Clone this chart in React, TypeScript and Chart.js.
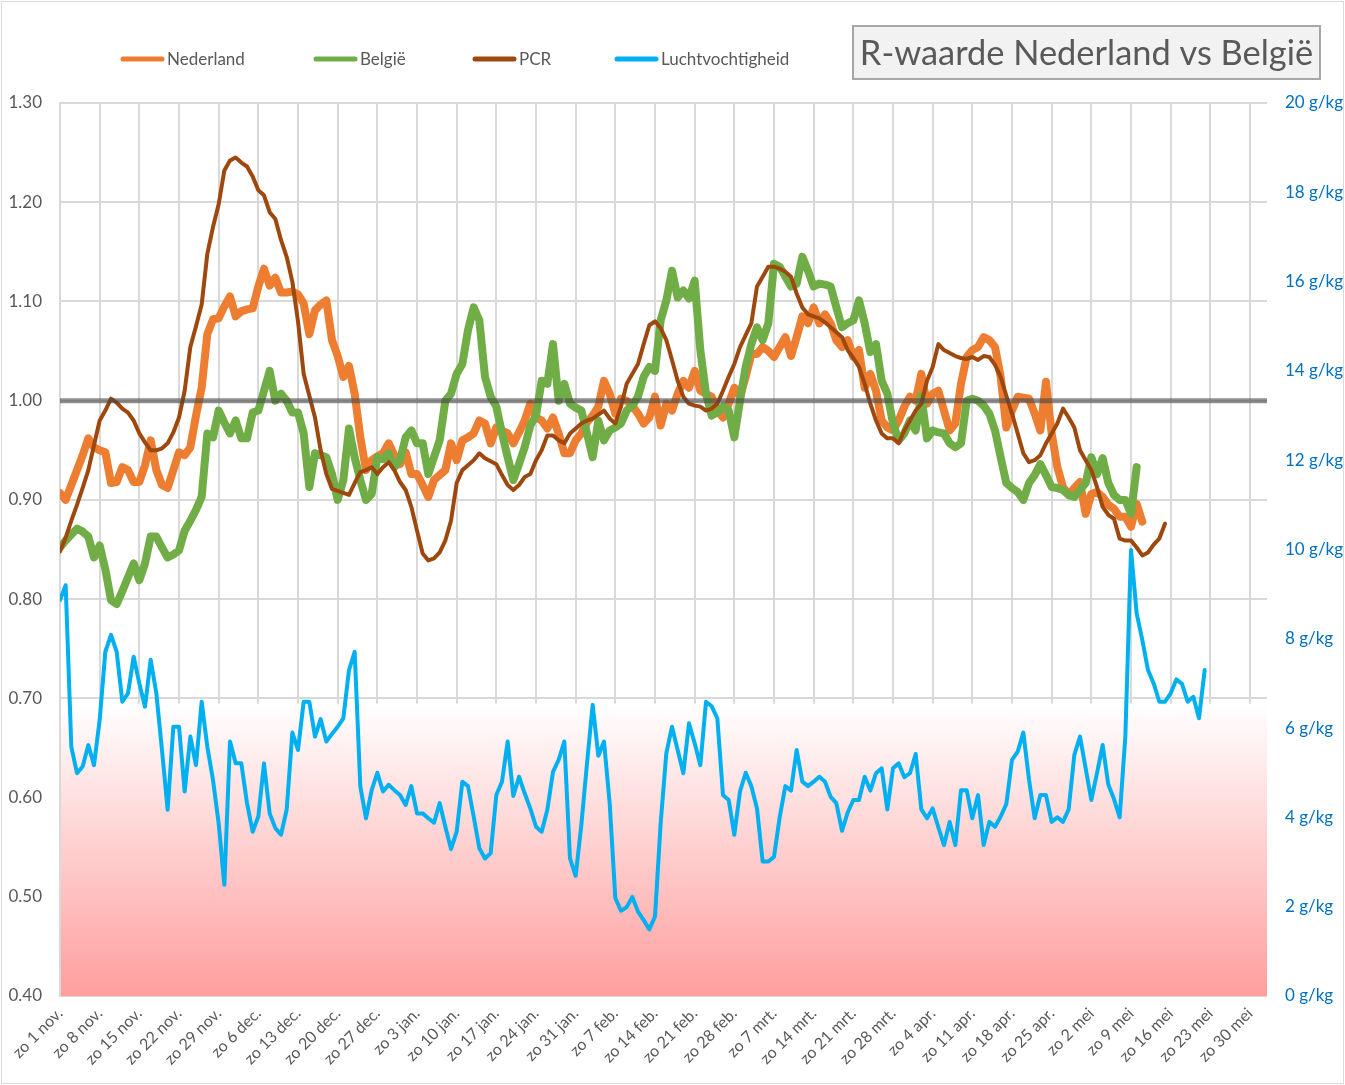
import React, { useEffect, useRef } from "react";
import { Chart, registerables } from "chart.js";

Chart.register(...registerables);

// ---------- data ----------
const TICK_LABELS = [
  "zo 1 nov.", "zo 8 nov.", "zo 15 nov.", "zo 22 nov.", "zo 29 nov.",
  "zo 6 dec.", "zo 13 dec.", "zo 20 dec.", "zo 27 dec.", "zo 3 jan.",
  "zo 10 jan.", "zo 17 jan.", "zo 24 jan.", "zo 31 jan.", "zo 7 feb.",
  "zo 14 feb.", "zo 21 feb.", "zo 28 feb.", "zo 7 mrt.", "zo 14 mrt.",
  "zo 21 mrt.", "zo 28 mrt.", "zo 4 apr.", "zo 11 apr.", "zo 18 apr.",
  "zo 25 apr.", "zo 2 mei", "zo 9 mei", "zo 16 mei", "zo 23 mei", "zo 30 mei",
];
const DAYS_PER_TICK = 7;
const X_MAX_DAY = 213;

// daily values, day 0 = 1 nov.
const NEDERLAND = [
  0.907, 0.900, 0.915, 0.930, 0.945, 0.962, 0.953, 0.950, 0.948, 0.917,
  0.918, 0.933, 0.930, 0.918, 0.918, 0.935, 0.960, 0.930, 0.915, 0.912,
  0.930, 0.948, 0.945, 0.953, 0.985, 1.013, 1.067, 1.082, 1.083, 1.095,
  1.105, 1.085, 1.090, 1.092, 1.093, 1.115, 1.133, 1.116, 1.124, 1.109,
  1.109, 1.110, 1.107, 1.098, 1.067, 1.091, 1.097, 1.101, 1.061, 1.045,
  1.024, 1.035, 1.007, 0.963, 0.930, 0.940, 0.944, 0.947, 0.957, 0.945,
  0.936, 0.948, 0.926, 0.926, 0.915, 0.903, 0.920, 0.925, 0.930, 0.957,
  0.940, 0.960, 0.963, 0.967, 0.980, 0.977, 0.957, 0.973, 0.970, 0.967,
  0.957, 0.968, 0.980, 0.997, 0.983, 0.980, 0.972, 0.983, 0.967, 0.947,
  0.947, 0.960, 0.967, 0.978, 0.985, 0.994, 1.020, 1.007, 0.987, 1.002,
  1.000, 0.995, 0.987, 0.977, 0.983, 1.004, 0.975, 0.997, 0.990, 1.007,
  1.020, 1.013, 1.030, 1.010, 1.007, 1.004, 0.990, 0.983, 0.997, 1.013,
  1.004, 1.024, 1.047, 1.047, 1.054, 1.050, 1.044, 1.054, 1.064, 1.045,
  1.064, 1.085, 1.078, 1.094, 1.078, 1.087, 1.078, 1.061, 1.054, 1.061,
  1.044, 1.051, 1.013, 1.027, 1.010, 0.980, 0.973, 0.970, 0.980, 0.994,
  1.004, 1.000, 1.027, 0.997, 1.007, 1.010, 0.990, 0.970, 0.977, 1.017,
  1.044, 1.051, 1.054, 1.064, 1.061, 1.054, 1.024, 0.973, 0.990, 1.004,
  1.003, 1.002, 0.987, 0.970, 1.019, 0.967, 0.933, 0.913, 0.905, 0.912,
  0.918, 0.886, 0.906, 0.908, 0.903, 0.895, 0.891, 0.883, 0.883, 0.873,
  0.896, 0.878,
];

const BELGIE = [
  0.852, 0.859, 0.865, 0.871, 0.868, 0.863, 0.842, 0.854, 0.830, 0.799,
  0.795, 0.808, 0.822, 0.836, 0.819, 0.836, 0.863, 0.863, 0.852, 0.842,
  0.845, 0.849, 0.869, 0.879, 0.890, 0.903, 0.967, 0.963, 0.990, 0.978,
  0.967, 0.980, 0.962, 0.962, 0.988, 0.990, 1.010, 1.030, 1.000, 1.007,
  1.000, 0.988, 0.988, 0.967, 0.913, 0.947, 0.945, 0.943, 0.926, 0.900,
  0.920, 0.972, 0.943, 0.920, 0.900, 0.906, 0.943, 0.941, 0.947, 0.933,
  0.940, 0.963, 0.970, 0.957, 0.957, 0.926, 0.943, 0.960, 1.000, 1.007,
  1.027, 1.037, 1.071, 1.094, 1.081, 1.024, 1.004, 0.994, 0.967, 0.943,
  0.920, 0.936, 0.953, 0.975, 0.985, 1.020, 1.017, 1.057, 1.000, 1.017,
  0.997, 0.993, 0.990, 0.967, 0.943, 0.980, 0.960, 0.970, 0.973, 0.977,
  0.990, 0.995, 1.004, 1.024, 1.034, 1.030, 1.081, 1.101, 1.131, 1.104,
  1.111, 1.103, 1.121, 1.051, 1.007, 0.985, 0.988, 0.994, 0.990, 0.963,
  1.000, 1.034, 1.057, 1.074, 1.061, 1.078, 1.138, 1.135, 1.125, 1.115,
  1.118, 1.145, 1.131, 1.115, 1.118, 1.117, 1.115, 1.094, 1.074, 1.078,
  1.081, 1.101, 1.078, 1.049, 1.057, 1.020, 1.007, 0.977, 0.960, 0.967,
  0.980, 0.970, 1.005, 0.962, 0.970, 0.968, 0.967, 0.957, 0.953, 0.957,
  1.000, 1.002, 1.000, 0.995, 0.987, 0.970, 0.943, 0.917, 0.912, 0.908,
  0.900, 0.917, 0.925, 0.936, 0.925, 0.913, 0.912, 0.910, 0.905, 0.903,
  0.910, 0.917, 0.943, 0.926, 0.942, 0.917, 0.905, 0.900, 0.900, 0.886,
  0.933,
];

const PCR = [
  0.848, 0.862, 0.879, 0.895, 0.912, 0.930, 0.955, 0.980, 0.990, 1.002,
  0.998, 0.992, 0.988, 0.980, 0.967, 0.958, 0.950, 0.950, 0.952, 0.957,
  0.968, 0.983, 1.010, 1.054, 1.075, 1.097, 1.148, 1.175, 1.198, 1.232,
  1.242, 1.245, 1.240, 1.236, 1.226, 1.212, 1.207, 1.190, 1.183, 1.162,
  1.145, 1.120, 1.080, 1.027, 1.005, 0.983, 0.950, 0.926, 0.911, 0.909,
  0.907, 0.905, 0.917, 0.928, 0.930, 0.933, 0.926, 0.933, 0.938, 0.930,
  0.918, 0.910, 0.893, 0.869, 0.846, 0.839, 0.841, 0.847, 0.859, 0.879,
  0.917, 0.930, 0.935, 0.940, 0.947, 0.942, 0.939, 0.936, 0.925, 0.915,
  0.910, 0.915, 0.923, 0.926, 0.940, 0.950, 0.965, 0.965, 0.960, 0.957,
  0.967, 0.972, 0.977, 0.980, 0.982, 0.986, 0.990, 0.982, 0.977, 0.994,
  1.017, 1.027, 1.037, 1.057, 1.076, 1.080, 1.073, 1.061, 1.041, 1.020,
  1.004, 0.997, 0.995, 0.994, 0.990, 0.992, 0.997, 1.010, 1.024, 1.037,
  1.054, 1.066, 1.078, 1.115, 1.125, 1.135, 1.135, 1.133, 1.130, 1.125,
  1.108, 1.094, 1.087, 1.085, 1.083, 1.079, 1.074, 1.069, 1.064, 1.051,
  1.043, 1.034, 1.017, 0.997, 0.980, 0.967, 0.962, 0.962, 0.957, 0.970,
  0.980, 0.990, 0.997, 1.020, 1.034, 1.057, 1.051, 1.048, 1.045, 1.043,
  1.042, 1.044, 1.041, 1.045, 1.044, 1.036, 1.024, 1.005, 0.987, 0.967,
  0.947, 0.938, 0.940, 0.945, 0.957, 0.967, 0.977, 0.992, 0.983, 0.973,
  0.950, 0.940, 0.930, 0.913, 0.893, 0.885, 0.881, 0.861, 0.859, 0.859,
  0.852, 0.844, 0.847, 0.855, 0.861, 0.876,
];

// g/kg
const LUCHTVOCHTIGHEID = [
  8.87, 9.20, 5.58, 4.99, 5.14, 5.62, 5.17, 6.18, 7.71, 8.09,
  7.71, 6.59, 6.78, 7.60, 7.00, 6.48, 7.53, 6.78, 5.50, 4.17,
  6.03, 6.03, 4.58, 5.81, 5.17, 6.59, 5.58, 4.84, 3.87, 2.49,
  5.70, 5.21, 5.21, 4.32, 3.68, 4.02, 5.21, 4.09, 3.76, 3.61,
  4.17, 5.90, 5.51, 6.59, 6.59, 5.81, 6.20, 5.70, 5.87, 6.03,
  6.22, 7.30, 7.71, 4.69, 3.98, 4.61, 5.00, 4.58, 4.73, 4.61,
  4.50, 4.28, 4.70, 4.09, 4.09, 3.98, 3.88, 4.32, 3.79, 3.29,
  3.68, 4.80, 4.70, 4.02, 3.31, 3.08, 3.20, 4.50, 4.80, 5.70,
  4.48, 4.91, 4.54, 4.20, 3.79, 3.68, 4.17, 5.02, 5.29, 5.70,
  3.08, 2.69, 3.83, 5.21, 6.52, 5.38, 5.70, 4.32, 2.19, 1.91,
  1.99, 2.22, 1.89, 1.70, 1.49, 1.78, 3.87, 5.44, 6.03, 5.51,
  4.99, 6.11, 5.66, 5.17, 6.59, 6.49, 6.22, 4.50, 4.39, 3.61,
  4.58, 5.00, 4.70, 4.20, 3.01, 3.01, 3.12, 4.00, 4.70, 4.60,
  5.51, 4.80, 4.70, 4.80, 4.91, 4.80, 4.46, 4.32, 3.70, 4.11,
  4.39, 4.39, 4.91, 4.60, 4.99, 5.10, 4.18, 5.10, 5.21, 4.90,
  4.99, 5.42, 4.18, 3.98, 4.20, 3.78, 3.38, 3.90, 3.38, 4.61,
  4.61, 3.98, 4.50, 3.38, 3.90, 3.79, 4.02, 4.30, 5.29, 5.47,
  5.90, 4.85, 3.98, 4.50, 4.50, 3.90, 4.00, 3.90, 4.18, 5.40,
  5.81, 5.10, 4.39, 4.99, 5.62, 4.73, 4.41, 4.00, 5.81, 9.99,
  8.57, 7.97, 7.30, 7.00, 6.59, 6.59, 6.78, 7.09, 6.99, 6.59,
  6.70, 6.22, 7.30,
];

const REFERENCE_R = 1.0;
const BAND_TOP_GKG = 6.55;

const TITLE = "R-waarde Nederland vs België";
const SERIES_NAMES = ["Nederland", "België", "PCR", "Luchtvochtigheid"];
const COLORS = ["#ED7D31", "#70AD47", "#9E480E", "#00B0F0"];

// ---------- presentation ----------
const FONT = "Lato, 'Open Sans', sans-serif";
const GRID = "#D9D9D9";
const TEXT = "#595959";
const LEGEND_X = [120, 313, 472, 614];
const LEGEND_Y = 59;

const toPoints = (arr: number[]) => arr.map((v, i) => ({ x: i, y: v }));

const decorPlugin = {
  id: "decor",
  beforeDraw(chart: any) {
    const { ctx, width, height } = chart;
    ctx.save();
    ctx.fillStyle = "#FFFFFF";
    ctx.fillRect(0, 0, width, height);
    ctx.strokeStyle = GRID;
    ctx.lineWidth = 1;
    ctx.strokeRect(1.5, 1.5, width - 3, height - 3);
    ctx.restore();
  },
  beforeDatasetsDraw(chart: any) {
    const { ctx, chartArea } = chart;
    const top = chart.scales.y1.getPixelForValue(BAND_TOP_GKG);
    const bottom = chartArea.bottom;
    const g = ctx.createLinearGradient(0, top, 0, bottom);
    g.addColorStop(0, "#FFFFFF");
    g.addColorStop(1, "#FF9E9E");
    ctx.save();
    ctx.fillStyle = g;
    ctx.fillRect(chartArea.left + 1, top, chartArea.right - chartArea.left - 1, bottom - top);
    ctx.restore();
  },
  afterDraw(chart: any) {
    const { ctx } = chart;
    ctx.save();
    // legend
    ctx.font = `17px ${FONT}`;
    ctx.textBaseline = "middle";
    ctx.textAlign = "left";
    SERIES_NAMES.forEach((name, i) => {
      const x = LEGEND_X[i];
      ctx.strokeStyle = COLORS[i];
      ctx.lineWidth = 5;
      ctx.lineCap = "round";
      ctx.beginPath();
      ctx.moveTo(x + 3, LEGEND_Y);
      ctx.lineTo(x + 42, LEGEND_Y);
      ctx.stroke();
      ctx.fillStyle = TEXT;
      ctx.fillText(name, x + 47, LEGEND_Y + 1);
    });
    // title box
    const bx = 853, by = 26, bw = 467, bh = 53;
    ctx.fillStyle = "#F2F2F2";
    ctx.fillRect(bx, by, bw, bh);
    ctx.strokeStyle = "#A6A6A6";
    ctx.lineWidth = 2;
    ctx.strokeRect(bx, by, bw, bh);
    ctx.font = `36px ${FONT}`;
    const w36 = ctx.measureText(TITLE).width;
    const size = (36 * 453) / w36;
    ctx.font = `${size.toFixed(1)}px ${FONT}`;
    ctx.fillStyle = TEXT;
    ctx.textAlign = "center";
    ctx.fillText(TITLE, bx + bw / 2, by + bh / 2 + 1);
    ctx.restore();
  },
};

export default function App() {
  const ref = useRef<HTMLCanvasElement | null>(null);

  useEffect(() => {
    if (!ref.current) return;
    const lineBase = {
      pointRadius: 0,
      pointHoverRadius: 0,
      tension: 0,
      borderJoinStyle: "round" as const,
      borderCapStyle: "round" as const,
      fill: false,
    };
    const chart = new Chart(ref.current, {
      type: "line",
      data: {
        datasets: [
          {
            ...lineBase,
            label: "1.00",
            data: [
              { x: 0, y: REFERENCE_R },
              { x: X_MAX_DAY, y: REFERENCE_R },
            ],
            borderColor: "rgba(70,70,70,0.6)",
            borderWidth: 5,
            borderCapStyle: "butt" as const,
            yAxisID: "y",
            order: 0,
          },
          {
            ...lineBase,
            label: SERIES_NAMES[3],
            data: toPoints(LUCHTVOCHTIGHEID),
            borderColor: COLORS[3],
            borderWidth: 4,
            yAxisID: "y1",
            order: 1,
          },
          {
            ...lineBase,
            label: SERIES_NAMES[2],
            data: toPoints(PCR),
            borderColor: COLORS[2],
            borderWidth: 4,
            yAxisID: "y",
            order: 2,
          },
          {
            ...lineBase,
            label: SERIES_NAMES[1],
            data: toPoints(BELGIE),
            borderColor: COLORS[1],
            borderWidth: 8,
            yAxisID: "y",
            order: 3,
          },
          {
            ...lineBase,
            label: SERIES_NAMES[0],
            data: toPoints(NEDERLAND),
            borderColor: COLORS[0],
            borderWidth: 8,
            yAxisID: "y",
            order: 4,
          },
        ],
      },
      options: {
        animation: false,
        responsive: false,
        maintainAspectRatio: false,
        layout: { padding: { left: 8, top: 103, right: 0, bottom: 0 } },
        plugins: { legend: { display: false }, title: { display: false }, tooltip: { enabled: false } },
        scales: {
          x: {
            type: "linear",
            min: 0,
            max: X_MAX_DAY,
            bounds: "data",
            afterBuildTicks: (s: any) => {
              s.ticks = TICK_LABELS.map((_, i) => ({ value: i * DAYS_PER_TICK }));
            },
            afterFit: (s: any) => {
              s.height = 89;
            },
            grid: { color: GRID, lineWidth: 2, drawTicks: false },
            border: { display: false },
            ticks: {
              autoSkip: false,
              maxRotation: 45,
              minRotation: 45,
              padding: 8,
              color: TEXT,
              font: { family: FONT, size: 16 },
              callback: (v: any) => TICK_LABELS[Math.round(Number(v) / DAYS_PER_TICK)] ?? "",
            },
          },
          y: {
            type: "linear",
            position: "left",
            min: 0.4,
            max: 1.3,
            afterFit: (s: any) => {
              s.width = 52;
            },
            grid: { color: GRID, lineWidth: 2, drawTicks: false },
            border: { display: true, color: GRID, width: 2 },
            ticks: {
              stepSize: 0.1,
              padding: 18,
              color: TEXT,
              font: { family: FONT, size: 17 },
              callback: (v: any) => Number(v).toFixed(2),
            },
          },
          y1: {
            type: "linear",
            position: "right",
            min: 0,
            max: 20,
            afterFit: (s: any) => {
              s.width = 78;
            },
            grid: { drawOnChartArea: false, drawTicks: false },
            border: { display: false },
            ticks: {
              stepSize: 2,
              padding: 18,
              color: "#0070C0",
              font: { family: FONT, size: 17 },
              callback: (v: any) => `${v} g/kg`,
            },
          },
        },
      },
      plugins: [decorPlugin],
    });
    return () => chart.destroy();
  }, []);

  return (
    <div style={{ position: "absolute", left: 0, top: 0, width: 1345, height: 1085, background: "#fff" }}>
      <canvas ref={ref} width={1345} height={1085} style={{ display: "block" }} />
    </div>
  );
}
